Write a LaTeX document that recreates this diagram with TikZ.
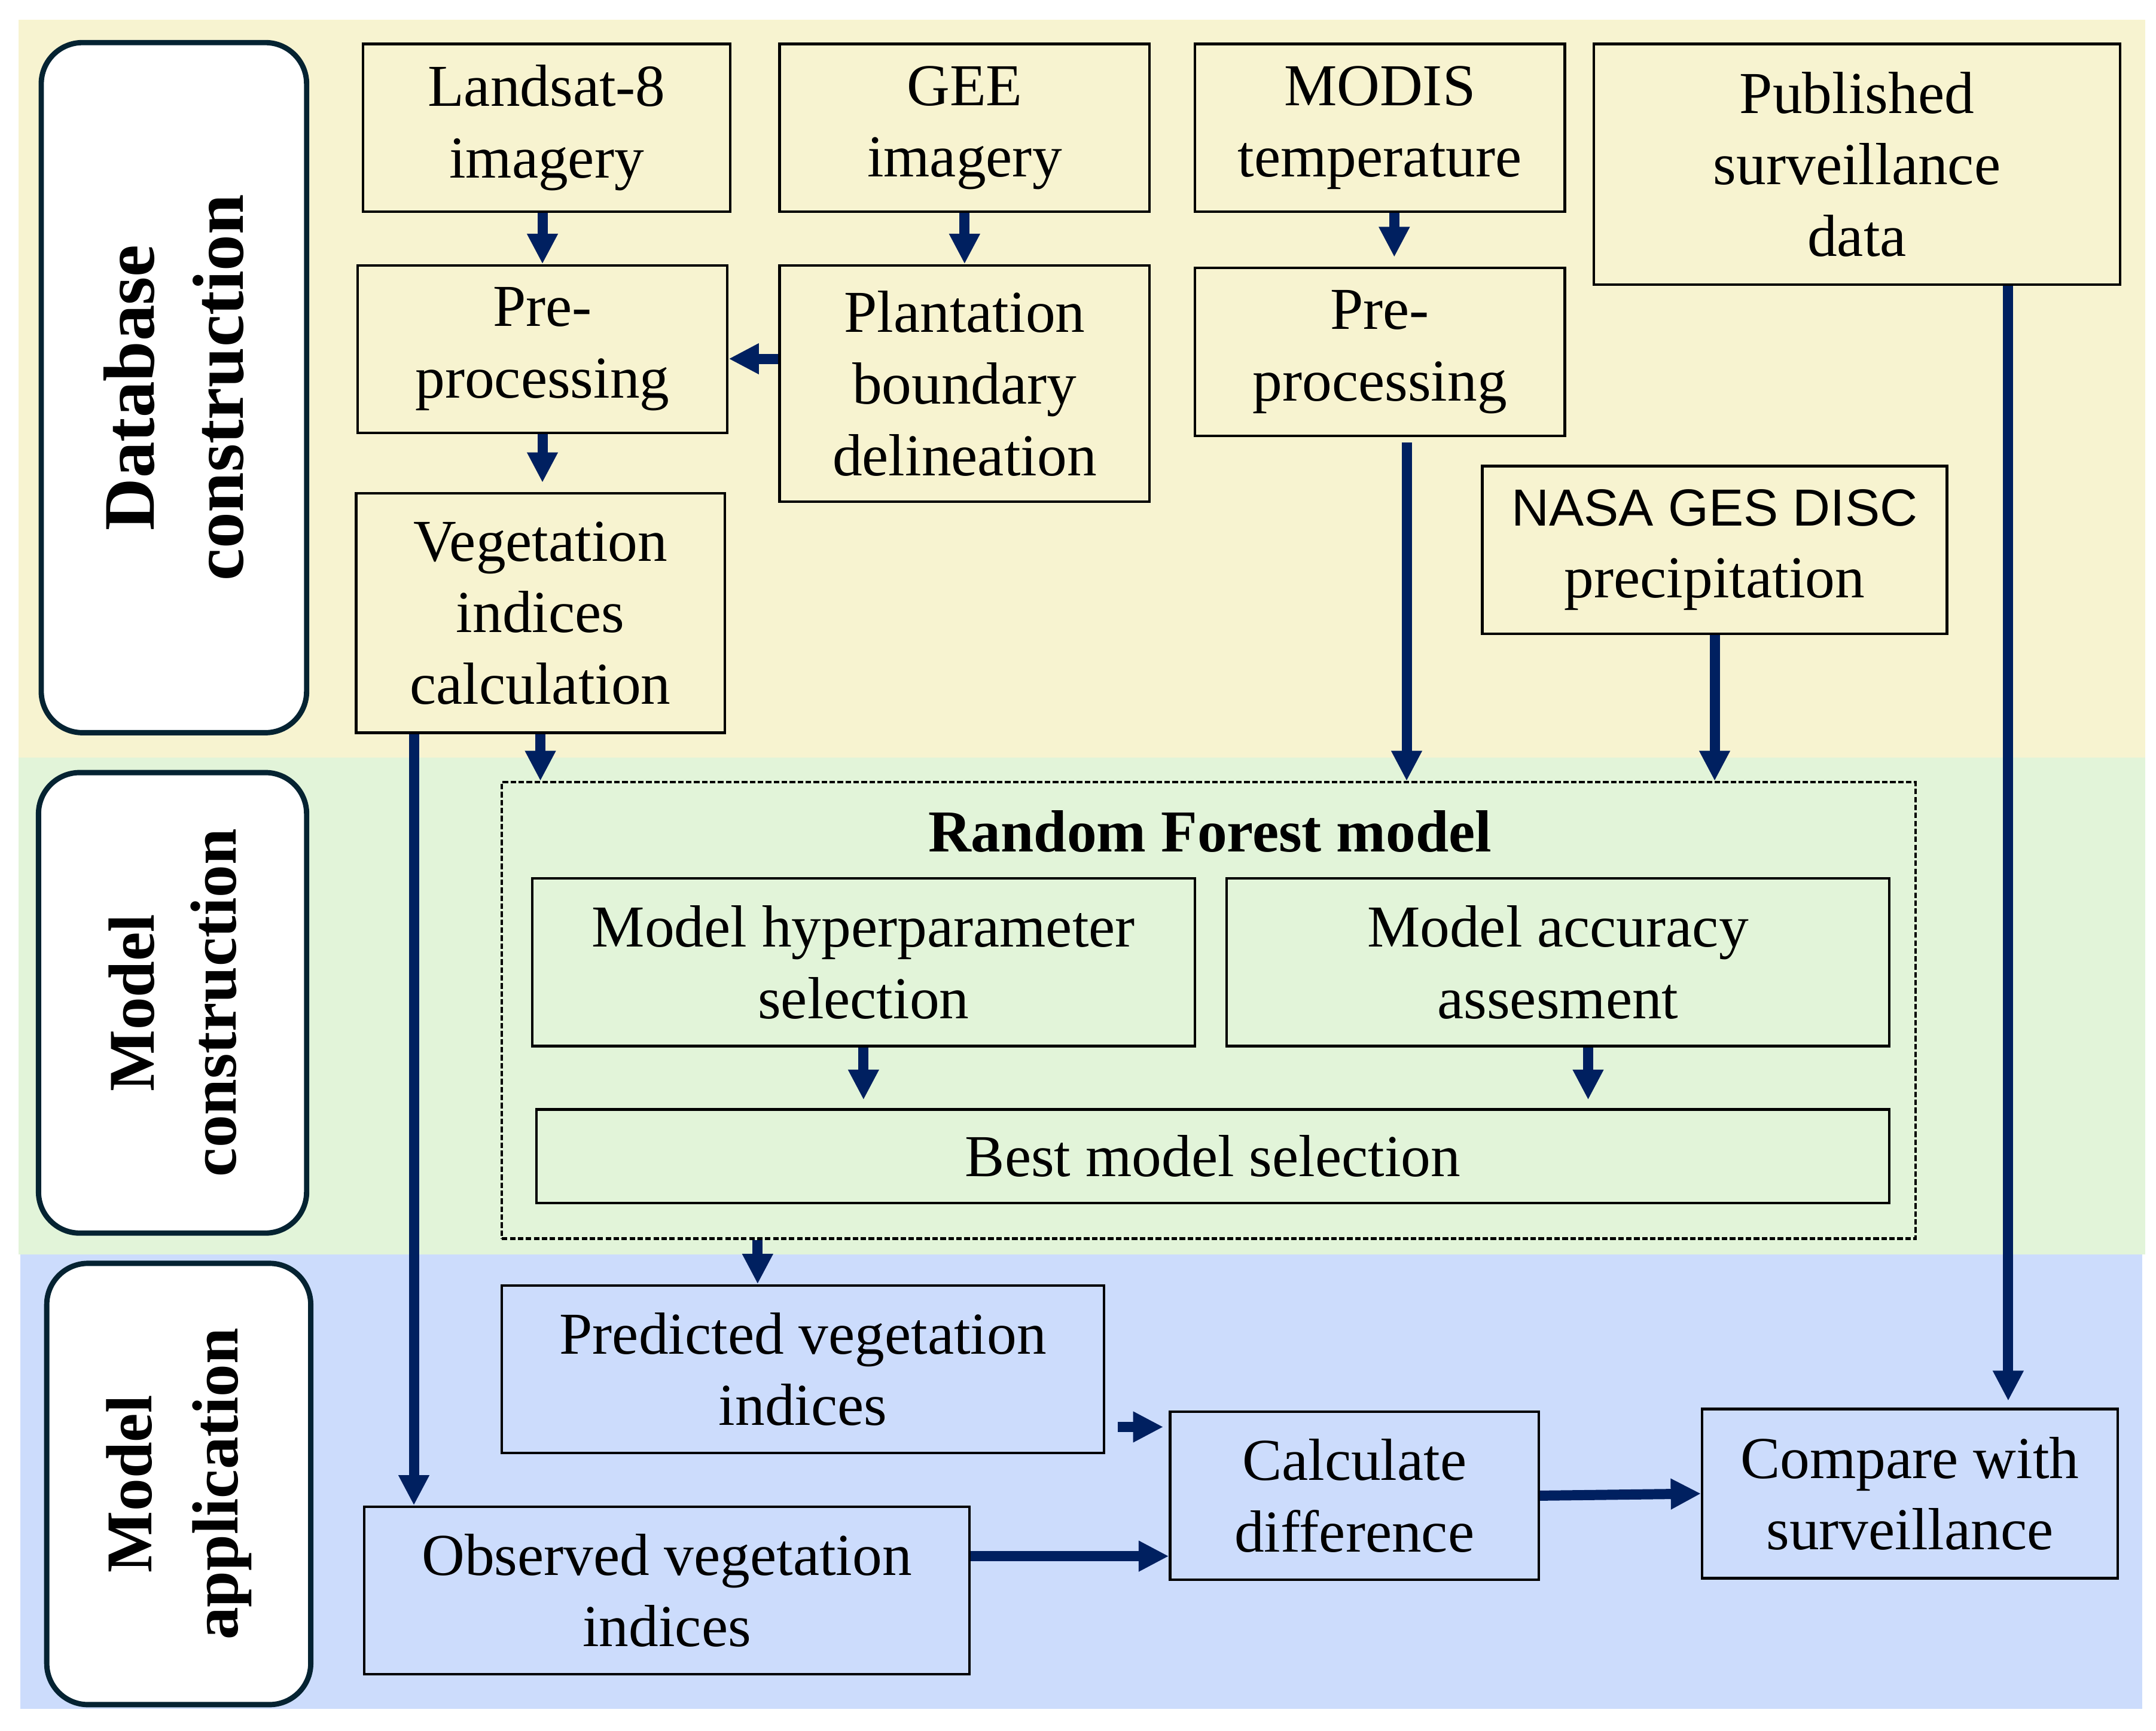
\documentclass[tikz,border=0pt]{standalone}
\usepackage{fontspec}
\setmainfont{Liberation Serif}
\newfontfamily\arialfont{Liberation Sans}
\usetikzlibrary{arrows.meta}
\definecolor{db_yellow}{RGB}{247, 243, 208}
\definecolor{db_green}{RGB}{226, 244, 217}
\definecolor{db_blue}{RGB}{204, 220, 252}
\definecolor{db_navy}{RGB}{0, 32, 96}
\definecolor{db_edge}{RGB}{5, 35, 50}
\tikzstyle{bx}=[rectangle,draw=black,line width=0.53pt,inner sep=0pt,align=center,
  font=\fontsize{12.3}{14.8}\selectfont]
\tikzstyle{lb}=[rectangle,rounded corners=0.3cm,draw=db_edge,fill=white,
  line width=1.1pt,inner sep=0pt,align=center,rotate=90]
\tikzstyle{ar}=[-{Triangle[width=0.21cm,length=0.22cm]},draw=db_navy,fill=db_navy,
  line width=2.1pt]

\begin{document}
\begin{tikzpicture}
    \useasboundingbox (0,0) rectangle (15.68,-12.588);
    % stage bands
    \fill [db_yellow] (0.135,-0.142) rectangle (15.60,-5.51);
    \fill [db_green] (0.135,-5.51) rectangle (15.60,-9.125);
    \fill [db_blue] (0.15,-9.125) rectangle (15.58,-12.43);
    % stage labels
    \node [style=lb,minimum width=5.02cm,minimum height=1.93cm,
      font=\bfseries\fontsize{15}{18.5}\selectfont] (dblabel) at (1.265,-2.82) {Database\\construction};
    \node [style=lb,minimum width=3.35cm,minimum height=1.95cm,
      font=\bfseries\fontsize{13.5}{17}\selectfont] (mclabel) at (1.255,-7.295) {Model\\construction};
    \node [style=lb,minimum width=3.21cm,minimum height=1.92cm,
      font=\bfseries\fontsize{13.5}{17.8}\selectfont] (malabel) at (1.30,-10.795) {Model\\application};
    % database construction
    \node [style=bx,minimum width=2.67cm,minimum height=1.22cm] (landsat) at (3.975,-0.93) {Landsat-8\\imagery};
    \node [style=bx,minimum width=2.69cm,minimum height=1.22cm] (gee) at (7.015,-0.93) {GEE\\imagery};
    \node [style=bx,minimum width=2.69cm,minimum height=1.22cm] (modis) at (10.035,-0.93) {MODIS\\temperature};
    \node [style=bx,minimum width=3.83cm,minimum height=1.75cm] (pub) at (13.505,-1.195) {Published\\surveillance\\data};
    \node [style=bx,minimum width=2.69cm,minimum height=1.22cm] (prepl) at (3.945,-2.54) {Pre-\\processing};
    \node [style=bx,minimum width=2.69cm,minimum height=1.72cm] (plant) at (7.015,-2.79) {Plantation\\boundary\\delineation};
    \node [style=bx,minimum width=2.69cm,minimum height=1.22cm] (prepr) at (10.035,-2.56) {Pre-\\processing};
    \node [style=bx,minimum width=3.38cm,minimum height=1.22cm] (nasa) at (12.47,-4.00)
      {{\arialfont\fontsize{10.8}{14.8}\selectfont NASA GES DISC}\\precipitation};
    \node [style=bx,minimum width=2.68cm,minimum height=1.74cm] (veg) at (3.93,-4.46) {Vegetation\\indices\\calculation};
    % model construction
    \node [draw=black,dash pattern=on 1.15pt off 0.5pt,line width=0.5pt,inner sep=0pt,
      minimum width=10.28cm,minimum height=3.32cm] (rf) at (8.79,-7.35) {};
    \node [font=\bfseries\fontsize{12.3}{14.8}\selectfont] (rftitle) at (8.80,-6.05) {Random Forest model};
    \node [style=bx,minimum width=4.82cm,minimum height=1.22cm] (hyper) at (6.28,-7.00) {Model hyperparameter\\selection};
    \node [style=bx,minimum width=4.82cm,minimum height=1.22cm] (acc) at (11.33,-7.00) {Model accuracy\\assesment};
    \node [style=bx,minimum width=9.84cm,minimum height=0.68cm] (best) at (8.82,-8.41) {Best model selection};
    % model application
    \node [style=bx,minimum width=4.38cm,minimum height=1.22cm] (pred) at (5.84,-9.96) {Predicted vegetation\\indices};
    \node [style=bx,minimum width=4.40cm,minimum height=1.22cm] (obs) at (4.85,-11.57) {Observed vegetation\\indices};
    \node [style=bx,minimum width=2.68cm,minimum height=1.22cm] (calc) at (9.85,-10.88) {Calculate\\difference};
    \node [style=bx,minimum width=3.02cm,minimum height=1.23cm] (cmp) at (13.89,-10.865) {Compare with\\surveillance};
    % helper points
    \coordinate (pp) at (5.48,-2.61);
    \coordinate (modisout) at ([xshift=1.05mm]modis.south);
    \coordinate (prepout) at ([xshift=1.95mm]prepr.south);
    \coordinate (vegout) at ([xshift=-9.2mm]veg.south);
    \coordinate (pubout) at ([xshift=11mm]pub.south);
    \coordinate (accout) at ([xshift=2.2mm]acc.south);
    \coordinate (predin) at ([xshift=-3.3mm]pred.north);
    \coordinate (calcin1) at ([yshift=5mm]calc.west);
    \coordinate (calcin2) at ([yshift=-4.4mm]calc.west);
    % arrows
    \draw [style=ar] (landsat.south -| prepl.north) to (prepl.north);
    \draw [style=ar] (gee.south) to (plant.north);
    \draw [style=ar,shorten >=0.7mm] (modisout) to (modisout |- prepr.north);
    \draw [style=ar] (plant.west |- pp) to (prepl.east |- pp);
    \draw [style=ar,shorten >=0.7mm] (prepl.south) to (prepl.south |- veg.north);
    \draw [style=ar] (veg.south) to (veg.south |- rf.north);
    \draw [style=ar] (vegout) to (vegout |- obs.north);
    \draw [style=ar,shorten <=0.4mm] (prepout) to (prepout |- rf.north);
    \draw [style=ar] (nasa.south) to (nasa.south |- rf.north);
    \draw [style=ar,shorten >=0.5mm] (pubout) to (pubout |- cmp.north);
    \draw [style=ar,shorten >=0.6mm] (hyper.south) to (hyper.south |- best.north);
    \draw [style=ar,shorten >=0.6mm] (accout) to (accout |- best.north);
    \draw [style=ar] (predin |- rf.south) to (predin);
    \draw [style=ar,shorten <=0.9mm,shorten >=0.4mm] (pred.east |- calcin1) to (calcin1);
    \draw [style=ar] (obs.east |- calcin2) to (calcin2);
    \draw [style=ar] (calc.east) to (cmp.west);
\end{tikzpicture}
\end{document}
